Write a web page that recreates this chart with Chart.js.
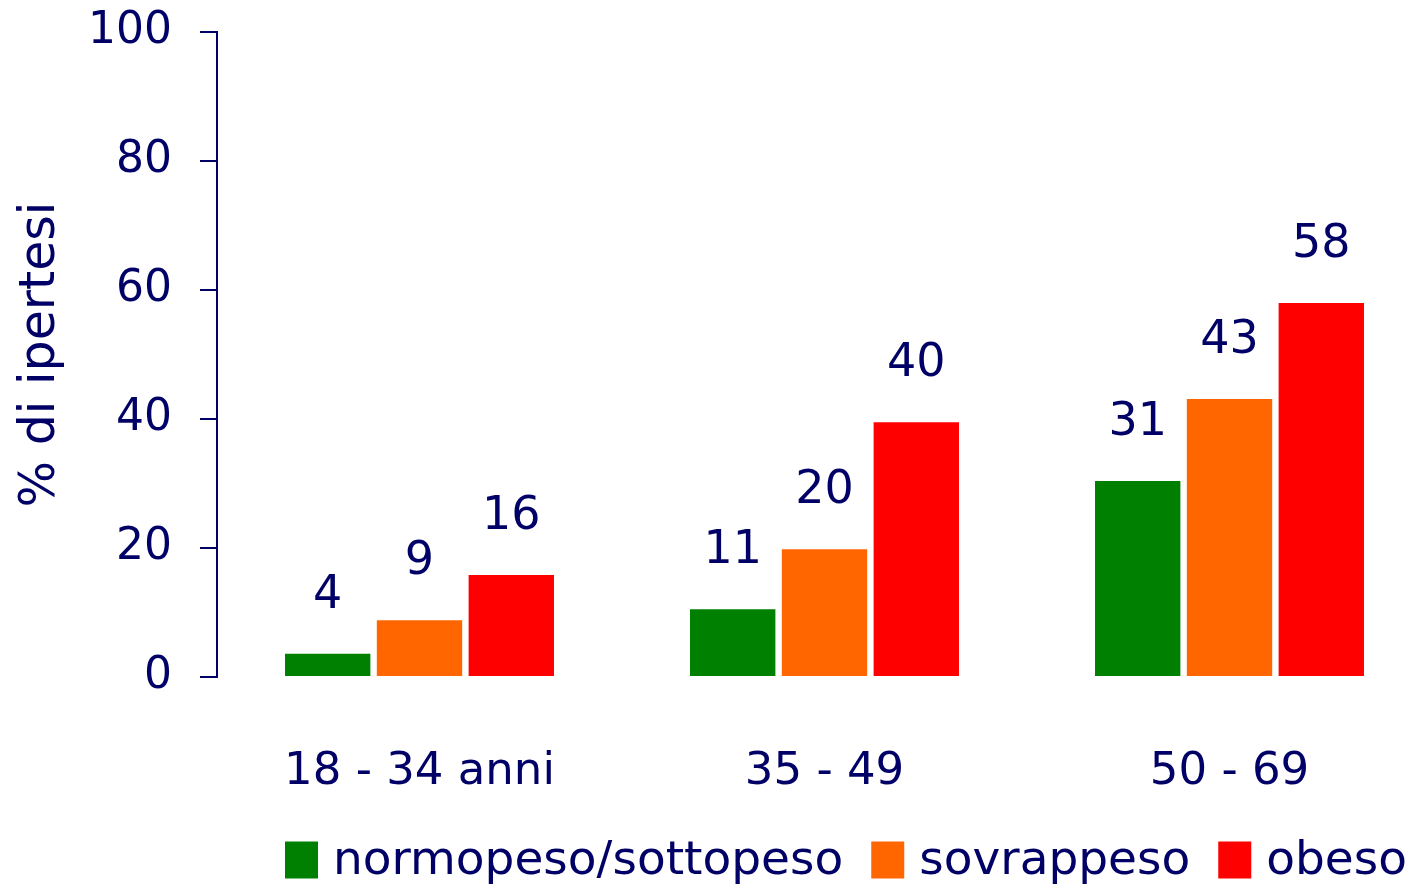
<!DOCTYPE html>
<html>
<head>
<meta charset="utf-8">
<script src="https://cdn.jsdelivr.net/npm/chart.js@4"></script>
<style>
  html, body { margin: 0; padding: 0; background: #fff; overflow: hidden; }
  #wrap { position: relative; width: 1440px; height: 890px; }
</style>
</head>
<body>
<div id="wrap"><canvas id="c"></canvas></div>
<script>
const categories = ["18 - 34 anni", "35 - 49", "50 - 69"];
const seriesNames = ["normopeso/sottopeso", "sovrappeso", "obeso"];
const normopeso = [3.6, 10.5, 30.4];
const sovrappeso = [8.8, 19.8, 43.1];
const obeso = [15.8, 39.5, 58];
const labelsNormopeso = ["4", "11", "31"];
const labelsSovrappeso = ["9", "20", "43"];
const labelsObeso = ["16", "40", "58"];
const yTicks = [0, 20, 40, 60, 80, 100];
const colors = ["#008000", "#FF6600", "#FF0000"];
const navy = "#000066";
const FONT = "'DejaVu Sans', sans-serif";

const valueLabels = [labelsNormopeso, labelsSovrappeso, labelsObeso];

const barLabelPlugin = {
  id: 'barLabels',
  afterDatasetsDraw(chart) {
    const ctx = chart.ctx;
    ctx.save();
    ctx.fillStyle = navy;
    ctx.font = "46px " + FONT;
    ctx.textAlign = "center";
    ctx.textBaseline = "middle";
    chart.data.datasets.forEach((ds, i) => {
      const meta = chart.getDatasetMeta(i);
      meta.data.forEach((bar, j) => {
        ctx.fillText(valueLabels[i][j], bar.x, bar.y - 58);
      });
    });
    ctx.restore();
  }
};

const legendPlugin = {
  id: 'customLegend',
  afterDraw(chart) {
    const ctx = chart.ctx;
    ctx.save();
    ctx.font = "47px " + FONT;
    ctx.textBaseline = "middle";
    ctx.textAlign = "left";
    const boxW = 33, boxH = 37, gapText = 15, gapItem = 28;
    const items = chart.data.datasets.map(ds => ({
      label: ds.label, color: ds.backgroundColor, w: ctx.measureText(ds.label).width
    }));
    let total = 0;
    items.forEach((it, k) => { total += boxW + gapText + it.w + (k < items.length - 1 ? gapItem : 0); });
    let x = 846 - total / 2;
    const cy = 860;
    items.forEach(it => {
      ctx.fillStyle = it.color;
      ctx.fillRect(x, cy - boxH / 2, boxW, boxH);
      x += boxW + gapText;
      ctx.fillStyle = navy;
      ctx.fillText(it.label, x, cy + 2);
      x += it.w + gapItem;
    });
    ctx.restore();
  }
};

new Chart(document.getElementById('c'), {
  type: 'bar',
  data: {
    labels: categories,
    datasets: [
      { label: seriesNames[0], data: normopeso, backgroundColor: colors[0] },
      { label: seriesNames[1], data: sovrappeso, backgroundColor: colors[1] },
      { label: seriesNames[2], data: obeso, backgroundColor: colors[2] }
    ]
  },
  options: {
    responsive: true,
    maintainAspectRatio: false,
    animation: false,
    layout: { padding: { top: 10, right: 8, left: 0, bottom: 0 } },
    categoryPercentage: 0.68,
    barPercentage: 0.93,
    plugins: {
      legend: { display: false },
      tooltip: { enabled: false }
    },
    scales: {
      x: {
        grid: { display: false, drawTicks: false },
        border: { display: false },
        ticks: { color: navy, font: { family: FONT, size: 45 }, padding: 68 },
        afterFit(scale) { scale.height = 213; }
      },
      y: {
        min: 0, max: 100,
        afterBuildTicks(scale) { scale.ticks = yTicks.map(v => ({ value: v })); },
        grid: { drawOnChartArea: false, drawTicks: true, tickLength: 17, color: navy, lineWidth: 2 },
        border: { display: true, color: navy, width: 2 },
        ticks: { color: navy, font: { family: FONT, size: 44 }, padding: 28 },
        title: { display: true, text: "% di ipertesi", color: navy, font: { family: FONT, size: 49 }, padding: { top: 12, bottom: 0 } },
        afterFit(scale) { scale.width = 217; scale.paddingTop = 32; scale.paddingBottom = 22; }
      }
    }
  },
  plugins: [barLabelPlugin, legendPlugin]
});
</script>
</body>
</html>
